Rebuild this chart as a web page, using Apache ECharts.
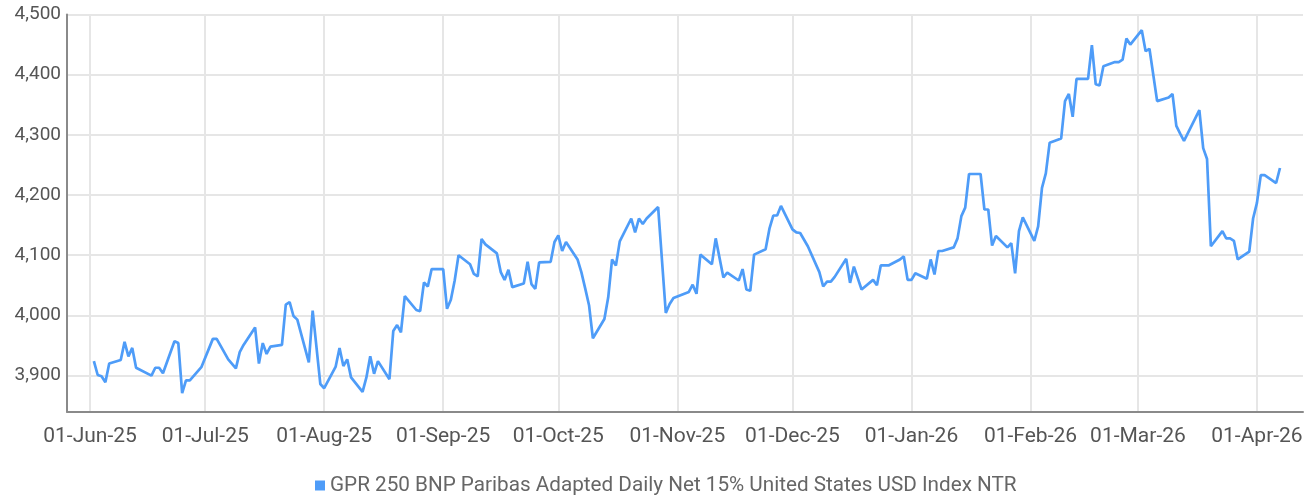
<!DOCTYPE html>
<html>
<head>
<meta charset="utf-8">
<script src="https://cdn.jsdelivr.net/npm/echarts@6/dist/echarts.min.js"></script>
<style>
  html, body { margin: 0; padding: 0; background: #ffffff; }
  #chart { width: 1312px; height: 497px; }
</style>
</head>
<body>
<div id="chart"></div>
<script>
// ---- data ----
const seriesName = 'GPR 250 BNP Paribas Adapted Daily Net 15% United States USD Index NTR';

const dates = [
  '2025-06-02','2025-06-03','2025-06-04','2025-06-05','2025-06-06','2025-06-09','2025-06-10','2025-06-11','2025-06-12','2025-06-13',
  '2025-06-17','2025-06-18','2025-06-19','2025-06-20','2025-06-23','2025-06-24','2025-06-25','2025-06-26','2025-06-27','2025-06-30',
  '2025-07-03','2025-07-04','2025-07-07','2025-07-09','2025-07-10','2025-07-11','2025-07-14','2025-07-15','2025-07-16','2025-07-17',
  '2025-07-18','2025-07-21','2025-07-22','2025-07-23','2025-07-24','2025-07-25','2025-07-28','2025-07-29','2025-07-31','2025-08-01',
  '2025-08-04','2025-08-05','2025-08-06','2025-08-07','2025-08-08','2025-08-11','2025-08-12','2025-08-13','2025-08-14','2025-08-15',
  '2025-08-18','2025-08-19','2025-08-20','2025-08-21','2025-08-22','2025-08-25','2025-08-26','2025-08-27','2025-08-28','2025-08-29',
  '2025-09-01','2025-09-02','2025-09-03','2025-09-04','2025-09-05','2025-09-08','2025-09-09','2025-09-10','2025-09-11','2025-09-12',
  '2025-09-15','2025-09-16','2025-09-17','2025-09-18','2025-09-19','2025-09-22','2025-09-23','2025-09-24','2025-09-25','2025-09-26',
  '2025-09-29','2025-09-30','2025-10-01','2025-10-02','2025-10-03',
  '2025-10-06','2025-10-07','2025-10-08','2025-10-09','2025-10-10','2025-10-13','2025-10-14','2025-10-15','2025-10-16','2025-10-17',
  '2025-10-20','2025-10-21','2025-10-22','2025-10-23','2025-10-24','2025-10-27','2025-10-29','2025-10-30','2025-10-31',
  '2025-11-04','2025-11-05','2025-11-06','2025-11-07','2025-11-10','2025-11-11','2025-11-13','2025-11-14',
  '2025-11-17','2025-11-18','2025-11-19','2025-11-20','2025-11-21','2025-11-24','2025-11-25','2025-11-26','2025-11-27','2025-11-28',
  '2025-12-01','2025-12-02','2025-12-03','2025-12-05','2025-12-08','2025-12-09',
  '2025-12-10','2025-12-11','2025-12-12','2025-12-15','2025-12-16','2025-12-17','2025-12-19','2025-12-22','2025-12-23','2025-12-24',
  '2025-12-26','2025-12-29','2025-12-30','2025-12-31','2026-01-01','2026-01-02','2026-01-05','2026-01-06','2026-01-07','2026-01-08',
  '2026-01-09','2026-01-12','2026-01-13','2026-01-14','2026-01-15','2026-01-16','2026-01-19','2026-01-20','2026-01-21','2026-01-22',
  '2026-01-23','2026-01-26','2026-01-27','2026-01-28','2026-01-29','2026-01-30','2026-02-02','2026-02-03','2026-02-04','2026-02-05',
  '2026-02-06','2026-02-09',
  '2026-02-10','2026-02-11','2026-02-12','2026-02-13','2026-02-16','2026-02-17','2026-02-18','2026-02-19','2026-02-20',
  '2026-02-23','2026-02-24','2026-02-25','2026-02-26','2026-02-27','2026-03-02','2026-03-03','2026-03-04','2026-03-06',
  '2026-03-09','2026-03-10','2026-03-11','2026-03-12','2026-03-13','2026-03-17','2026-03-18','2026-03-19','2026-03-20',
  '2026-03-23','2026-03-24','2026-03-25','2026-03-26','2026-03-27','2026-03-30','2026-03-31','2026-04-01','2026-04-02','2026-04-03',
  '2026-04-06','2026-04-07'
];

const values = [
  3924,3901,3899,3889,3920,3926,3956,3932,3946,3913,
  3900,3913,3913,3904,3957,3954,3871,3892,3892,3914,
  3961,3961,3927,3912,3939,3951,3980,3920,3954,3936,
  3948,3951,4018,4022,3999,3993,3922,4008,3886,3879,
  3915,3946,3916,3927,3897,3873,3897,3932,3903,3924,
  3894,3974,3984,3972,4032,4009,4007,4055,4048,4077,
  4077,4011,4026,4058,4100,4085,4069,4065,4127,4118,
  4103,4072,4059,4076,4047,4053,4089,4052,4044,4088,
  4089,4122,4133,4107,4122,
  4093,4072,4045,4017,3962,3994,4030,4093,4083,4123,
  4161,4138,4161,4152,4161,4180,4004,4019,4029,
  4039,4051,4036,4101,4085,4128,4063,4071,
  4058,4077,4043,4041,4101,4110,4144,4166,4166,4182,
  4143,4138,4137,4115,4072,4048,
  4056,4056,4064,4094,4054,4081,4043,4059,4050,4083,
  4083,4093,4098,4059,4059,4070,4061,4093,4068,4107,
  4107,4113,4128,4165,4179,4235,4235,4176,4176,4116,
  4132,4113,4120,4070,4140,4163,4124,4148,4212,4236,
  4287,4294,
  4356,4368,4330,4393,4393,4449,4384,4382,4414,
  4421,4421,4425,4460,4450,4474,4439,4443,4356,
  4362,4368,4315,4302,4290,4341,4278,4260,4115,
  4140,4128,4128,4124,4093,4106,4161,4187,4233,4233,
  4220,4245
];

// month-start ticks for the x axis, and y-axis tick values
const monthTicks = [
  '2025-06-01','2025-07-01','2025-08-01','2025-09-01','2025-10-01','2025-11-01',
  '2025-12-01','2026-01-01','2026-02-01','2026-03-01','2026-04-01'
];
const yTicks = [3900, 4000, 4100, 4200, 4300, 4400, 4500];
const monthNames = ['Jan','Feb','Mar','Apr','May','Jun','Jul','Aug','Sep','Oct','Nov','Dec'];

// ---- build ----
function toTs(s) {
  const p = s.split('-').map(Number);
  return Date.UTC(p[0], p[1] - 1, p[2]);
}
const seriesData = dates.map((d, i) => [toTs(d), values[i]]);
const xTickValues = monthTicks.map(toTs);

function fmtDate(v) {
  const d = new Date(v);
  const dd = String(d.getUTCDate()).padStart(2, '0');
  return dd + '-' + monthNames[d.getUTCMonth()] + '-' + String(d.getUTCFullYear()).slice(2);
}

const FONT = 'Roboto, "Noto Sans", sans-serif';
const LABEL_COLOR = '#555555';
const BLUE = '#4e9cf8';

const chart = echarts.init(document.getElementById('chart'), null, { renderer: 'canvas' });
chart.setOption({
  animation: false,
  backgroundColor: '#ffffff',
  grid: { left: 67, right: 9, top: 14.5, bottom: 85.3, containLabel: false },
  legend: {
    data: [{ name: seriesName, icon: 'rect' }],
    left: 310,
    top: 470,
    itemWidth: 10,
    itemHeight: 10,
    itemGap: 5,
    textStyle: { fontFamily: FONT, fontSize: 20.7, color: '#666666' }
  },
  xAxis: {
    type: 'value',
    min: toTs('2025-05-26'),
    max: toTs('2026-04-13'),
    axisLine: { show: true, lineStyle: { color: '#8a8a8a', width: 2 } },
    axisTick: { show: false, customValues: xTickValues },
    splitLine: { show: true, lineStyle: { color: '#e6e6e6', width: 2 } },
    axisLabel: {
      customValues: xTickValues,
      formatter: function (v) { return fmtDate(v); },
      fontFamily: FONT, fontSize: 21, color: LABEL_COLOR, margin: 15,
      hideOverlap: false
    }
  },
  yAxis: {
    type: 'value',
    min: 3840,
    max: 4500,
    axisLine: { show: true, lineStyle: { color: '#8a8a8a', width: 2 } },
    axisTick: { show: false, customValues: yTicks },
    splitLine: { show: true, lineStyle: { color: '#e6e6e6', width: 2 } },
    axisLabel: {
      customValues: yTicks,
      formatter: function (v) { return Number(v).toLocaleString('en-US'); },
      fontFamily: FONT, fontSize: 19, color: LABEL_COLOR, margin: 6
    }
  },
  series: [{
    name: seriesName,
    type: 'line',
    data: seriesData,
    showSymbol: false,
    symbol: 'none',
    smooth: false,
    lineStyle: { color: BLUE, width: 2.7 },
    itemStyle: { color: BLUE }
  }]
});
</script>
</body>
</html>
